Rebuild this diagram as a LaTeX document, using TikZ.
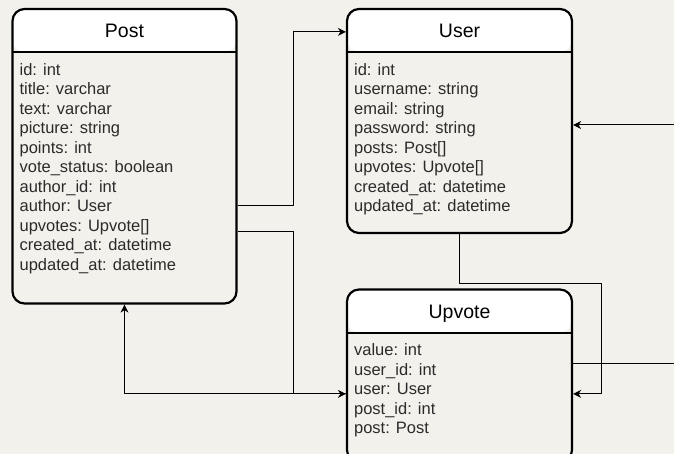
\documentclass[tikz,border=0pt]{standalone}
\usepackage{fontspec}
\setmainfont{Liberation Sans}
\usetikzlibrary{arrows.meta}
\definecolor{paper}{HTML}{F3F1EC}
\definecolor{ink}{HTML}{2B2B2B}
\begin{document}
\begin{tikzpicture}[x=1pt,y=-1pt,line join=round,
	entity/.style={draw=black,line width=2.2pt,rounded corners=12pt,inner sep=0pt,
		path picture={
			\fill[white] (path picture bounding box.north west) rectangle ([yshift=-43pt]path picture bounding box.east |- path picture bounding box.north);
			\draw[line width=2pt] ([yshift=-43pt]path picture bounding box.north west) -- ([yshift=-43pt]path picture bounding box.north east);
		}},
	title/.style={anchor=base,inner sep=0pt,font=\fontsize{19.5}{23}\selectfont},
	field/.style={anchor=base west,inner sep=0pt,text=ink,font=\fontsize{16.5}{19.5}\selectfont},
	link/.style={draw=black,line width=1pt,-{Stealth[length=8pt,width=8pt,inset=2.5pt]}},
	wire/.style={draw=black,line width=1pt}]
	\fill[paper] (0,0) rectangle (674,454);
	\useasboundingbox (0,0) rectangle (674,454);

	% tables
	\node[entity,minimum width=224pt,minimum height=294.5pt] (post) at (124.5,156.25) {};
	\node[entity,minimum width=225pt,minimum height=224pt] (user) at (459.5,121) {};
	\node[entity,minimum width=225pt,minimum height=172.5pt] (upvote) at (459.5,375.75) {};

	\node[title] (post-title) at ([yshift=-30pt]post.north) {Post};
	\node[title] (user-title) at ([yshift=-30pt]user.north) {User};
	\node[title] (upvote-title) at ([yshift=-30pt]upvote.north) {Upvote};

	\foreach \f [count=\i] in {id: int, title: varchar, text: varchar, picture: string,
		points: int, vote\_status: boolean, author\_id: int, author: User,
		upvotes: Upvote[], created\_at: datetime, updated\_at: datetime}
		\node[field] (post-\i) at ([xshift=8pt,yshift=-67.5pt-(\i-1)*19.5pt]post.north west) {\f};
	\foreach \f [count=\i] in {id: int, username: string, email: string, password: string,
		posts: Post[], upvotes: Upvote[], created\_at: datetime, updated\_at: datetime}
		\node[field] (user-\i) at ([xshift=8pt,yshift=-67.5pt-(\i-1)*19.5pt]user.north west) {\f};
	\foreach \f [count=\i] in {value: int, user\_id: int, user: User, post\_id: int, post: Post}
		\node[field] (upvote-\i) at ([xshift=8pt,yshift=-67.5pt-(\i-1)*19.5pt]upvote.north west) {\f};

	% relations
	\coordinate (east-in) at (674,125);
	\coordinate (east-out) at (674,363);
	\draw[link] ([yshift=-198pt]post.north east) -- ++(55.5,0) |- ([yshift=-24pt]user.north west);
	\draw[link] ([yshift=-224pt]post.north east) -- ++(55.5,0) |- ([yshift=-105.5pt]upvote.north west);
	\draw[link] ([yshift=-105.5pt]upvote.north west) -| (post.south);
	\draw[link] (user.south) -- ++(0,49) -| ([xshift=28pt,yshift=-105.5pt]upvote.north east) -- ([yshift=-105.5pt]upvote.north east);
	\draw[link] (east-in) -- (east-in -| user.east);
	\draw[wire] (east-out -| upvote.east) -- (east-out);
\end{tikzpicture}
\end{document}
